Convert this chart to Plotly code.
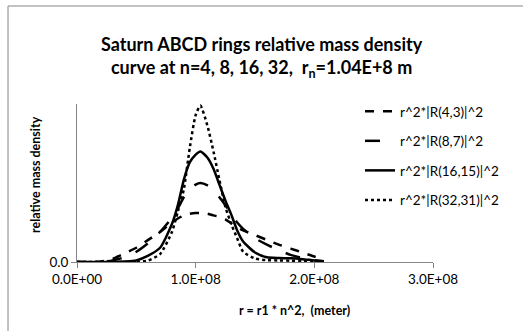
import plotly.graph_objects as go

# radius in units of 1e8 m
r_vals = [0, 0.2, 0.3, 0.4, 0.5, 0.6, 0.7, 0.8, 0.85, 0.9, 0.95, 1.0, 1.04, 1.1, 1.15,
          1.2, 1.25, 1.3, 1.35, 1.4, 1.5, 1.6, 1.7, 1.8, 1.9, 2.0, 2.08]
n4 = [0, 0.003, 0.02, 0.055, 0.09, 0.14, 0.19, 0.25, 0.275, 0.295, 0.305, 0.31, 0.31, 0.305, 0.295,
      0.285, 0.27, 0.245, 0.22, 0.2, 0.17, 0.14, 0.11, 0.085, 0.06, 0.035, 0.02]
n8 = [0, 0.0, 0.01, 0.03, 0.065, 0.12, 0.19, 0.28, 0.34, 0.41, 0.46, 0.49, 0.5, 0.485, 0.455,
      0.41, 0.36, 0.3, 0.25, 0.21, 0.15, 0.11, 0.075, 0.045, 0.025, 0.012, 0.005]
n16 = [0, 0, 0, 0.003, 0.01, 0.04, 0.09, 0.24, 0.36, 0.52, 0.63, 0.68, 0.7, 0.66, 0.59,
       0.49, 0.39, 0.3, 0.2, 0.13, 0.06, 0.03, 0.025, 0.023, 0.018, 0.01, 0.005]
n32 = [0, 0, 0, 0, 0, 0.01, 0.05, 0.19, 0.32, 0.46, 0.72, 0.93, 0.99, 0.86, 0.7,
       0.52, 0.35, 0.24, 0.15, 0.065, 0.022, 0.012, 0.01, 0.008, 0.006, 0.004, 0.003]

names = ["r^2*|R(4,3)|^2", "r^2*|R(8,7)|^2", "r^2*|R(16,15)|^2", "r^2*|R(32,31)|^2"]
series = [n4, n8, n16, n32]
dashes = ["dash", "longdash", "solid", "dot"]

x_ticks = [0, 1e8, 2e8, 3e8]
x_labels = ["0.0E+00", "1.0E+08", "2.0E+08", "3.0E+08"]

FONT = "Lato"
W, H = 523, 331
L, R, T, B = 77, 90, 104, 69
pw, ph = W - L - R, H - T - B


def px(xp):
    return (xp - L) / pw


def py(yp):
    return (H - B - yp) / ph


fig = go.Figure()
x_m = [v * 1e8 for v in r_vals]
for i, (nm, s, d) in enumerate(zip(names, series, dashes)):
    fig.add_trace(go.Scatter(
        x=x_m, y=s, name=nm, mode="lines", legendgroup=str(i),
        line=dict(color="black", width=2.5, dash=d, shape="spline", smoothing=0.6),
    ))

fig.update_layout(
    width=W, height=H,
    margin=dict(l=L, r=R, t=T, b=B),
    paper_bgcolor="white", plot_bgcolor="white",
    font=dict(family=FONT, color="black", size=13),
    showlegend=True,
    legend=dict(x=px(360), y=py(96), xanchor="left", yanchor="top",
                font=dict(size=13.5, family=FONT), tracegroupgap=9,
                bgcolor="rgba(0,0,0,0)"),
    xaxis=dict(range=[0, 3e8], tickvals=x_ticks, ticktext=x_labels,
               showgrid=False, zeroline=False, showline=True, linecolor="#868686",
               linewidth=1, ticks="outside", ticklen=5, tickcolor="#868686",
               tickfont=dict(size=13.5, family=FONT, color="black")),
    yaxis=dict(range=[0, 1.0], tickvals=[0], ticktext=["0.0"],
               showgrid=False, zeroline=False, showline=True, linecolor="#868686",
               linewidth=1, ticks="outside", ticklen=5, tickcolor="#868686",
               tickfont=dict(size=13.5, family=FONT, color="black")),
    shapes=[dict(type="rect", xref="paper", yref="paper",
                 x0=px(8), y0=py(H + 10), x1=px(W + 10), y1=py(6),
                 line=dict(color="#868686", width=1), fillcolor="rgba(0,0,0,0)", layer="below")],
    annotations=[
        dict(text="<b>Saturn ABCD rings relative mass density<br>curve at n=4, 8, 16, 32,  r<sub>n</sub>=1.04E+8 m</b>",
             xref="paper", yref="paper", x=px(262), y=py(57), xanchor="center", yanchor="middle",
             showarrow=False, font=dict(size=18, family=FONT, color="black")),
        dict(text="<b>relative mass density</b>", textangle=-90,
             xref="paper", yref="paper", x=px(35), y=py(175), xanchor="center", yanchor="middle",
             showarrow=False, font=dict(size=12.5, family=FONT, color="black")),
        dict(text="<b>r = r1 * n^2,  (meter)</b>",
             xref="paper", yref="paper", x=px(294), y=py(310), xanchor="center", yanchor="middle",
             showarrow=False, font=dict(size=12.5, family=FONT, color="black")),
    ],
)

fig.write_html("out.html")
